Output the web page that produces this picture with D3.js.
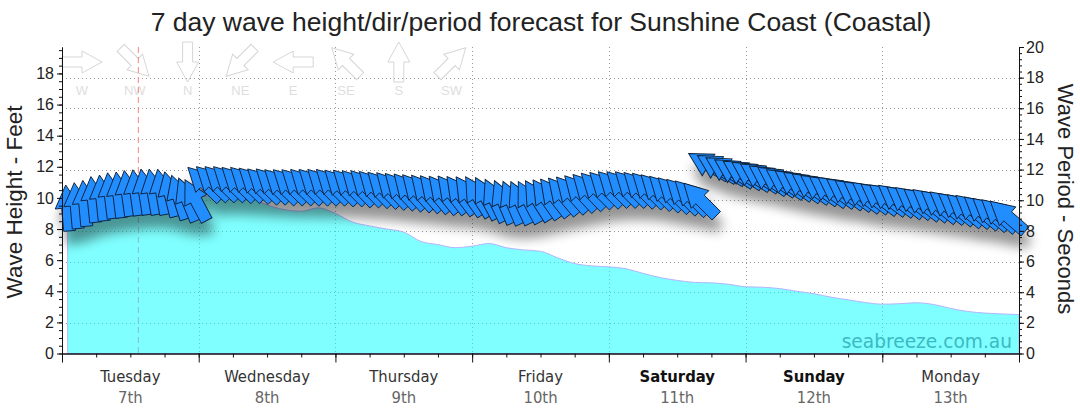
<!DOCTYPE html>
<html><head><meta charset="utf-8">
<script src="https://cdn.jsdelivr.net/npm/d3@7"></script>
<style>html,body{margin:0;padding:0;background:#fff;} svg{display:block;}</style>
</head><body><svg id="chart" width="1080" height="414"></svg>
<script>
// ---------- data ----------
const chartTitle = "7 day wave height/dir/period forecast for Sunshine Coast (Coastal)";
const dayNames = ["Tuesday","Wednesday","Thursday","Friday","Saturday","Sunday","Monday"];
const dayDates = ["7th","8th","9th","10th","11th","12th","13th"];
const weekendDays = ["Saturday","Sunday"];
const heightTicks = [0,2,4,6,8,10,12,14,16,18];
const periodTicks = [0,2,4,6,8,10,12,14,16,18,20];
const legendLabels = ["W","NW","N","NE","E","SE","S","SW"];
const legendFromDeg = [270,315,0,45,90,135,180,225];
const nowHour = 13.4;

// wave height (feet) - hours from Tue 00:00
const heightHours = [1,3,6,9,12,15,18,21,24,27,30,33,36,39,42,45,48,51,54,57,60,63,66,69,72,75,78,81,84,87,90,93,96,99,102,105,108,111,114,117,120,123,126,129,132,135,138,141,144,147,150,153,156,159,162,165,168];
const heightFeet = [9.36,9.4,9.5,9.6,9.7,9.8,9.9,10.0,10.1,10.1,10.1,10.0,9.55,9.25,9.15,9.36,9.0,8.45,8.2,8.0,7.8,7.2,7.0,6.8,6.9,7.07,6.8,6.66,6.57,6.15,5.78,5.63,5.57,5.45,5.15,4.88,4.7,4.57,4.54,4.45,4.29,4.26,4.17,4.0,3.84,3.62,3.45,3.28,3.17,3.2,3.26,3.15,2.9,2.7,2.6,2.54,2.5];

// swell period (s) and direction (deg, from) every 1.5 h starting 01:00 Tue
const swellStartHour = 1, swellStepHours = 1.5;
const swellPeriod = [
 9.5,9.65,9.8,10.05,10.15,10.3,10.35,10.45,10.5,10.55,10.55,10.55,10.4,10.2,10.05,10.0,
 11.1,11.15,11.15,11.15,11.1,11.1,11.05,11.0,11.0,10.95,10.95,10.95,10.95,10.95,10.95,10.95,
 10.9,10.9,10.85,10.85,10.8,10.75,10.7,10.65,10.6,10.55,10.5,10.45,10.4,10.4,10.35,10.3,
 10.25,10.15,10.0,9.9,9.85,9.85,9.9,10.0,10.1,10.2,10.3,10.4,10.5,10.6,10.7,10.75,
 10.8,10.8,10.8,10.75,10.7,10.6,10.5,10.4,10.3,10.2,10.05,
 12.3,12.15,12.0,11.85,11.75,11.65,11.55,11.4,11.3,11.15,11.05,10.95,10.85,10.75,10.65,10.6,
 10.5,10.4,10.3,10.25,10.15,10.1,10.05,9.95,9.9,9.8,9.75,9.65,9.6,9.5,9.4,9.35,
 9.25,9.15,9.05,8.95];
const swellDir = [
 175,175,175,174,174,173,173,172,172,171,170,170,166,162,158,152,
 134,134,134,134,134,134,134,134,134,134,134,134,135,135,135,135,
 135,135,136,136,136,136,137,137,138,138,139,140,141,142,143,145,
 148,152,155,157,157,155,152,148,145,142,140,138,137,136,135,135,
 135,135,135,135,135,135,135,135,135,135,135,
 120,121,121,122,122,123,123,124,124,124,125,125,125,125,126,126,
 126,126,127,127,127,127,128,128,128,128,129,129,129,129,130,130,
 130,130,131,131];

// ---------- drawing ----------
const svg = d3.select("#chart");
const L = 62, R = 1019, T = 47, B = 353.5;
const x = d3.scaleLinear().domain([0,168]).range([L,R]);
const yH = d3.scaleLinear().domain([0,19.7]).range([B,T]);
const yP = d3.scaleLinear().domain([0,20]).range([B,T]);
const FONT = "'Liberation Sans', Arial, sans-serif";
const legendArrow = "M-20,-5L0,-5L0,-11L20,0L0,11L0,5L-20,5Z";
const swellArrow = "M-23,-6L0,-6L0,-12.5L23,0L0,12.5L0,6L-23,6Z";

const defs = svg.append("defs");
const f = defs.append("filter").attr("id","shadow")
  .attr("x","-10%").attr("y","-40%").attr("width","130%").attr("height","220%");
f.append("feGaussianBlur").attr("in","SourceAlpha").attr("stdDeviation",6).attr("result","b");
f.append("feOffset").attr("in","b").attr("dx",3).attr("dy",13).attr("result","o");
f.append("feComponentTransfer").attr("in","o").attr("result","s")
  .append("feFuncA").attr("type","linear").attr("slope",0.42);
const fm = f.append("feMerge");
fm.append("feMergeNode").attr("in","s");
fm.append("feMergeNode").attr("in","SourceGraphic");

// title
svg.append("text").attr("x",541).attr("y",31).attr("text-anchor","middle")
  .style("font-family",FONT).style("font-size","26.5px").attr("fill","#222").text(chartTitle);

// grid
const grid = svg.append("g").attr("stroke","#9a9a9a").attr("stroke-dasharray","1,3").attr("stroke-width",1);
grid.selectAll("line.h").data(periodTicks.filter(d=>d>0 && d<20)).join("line")
  .attr("x1",L).attr("x2",R).attr("y1",d=>Math.round(yP(d))+0.5).attr("y2",d=>Math.round(yP(d))+0.5);
grid.selectAll("line.v").data(d3.range(24,168,24)).join("line")
  .attr("y1",T).attr("y2",B).attr("x1",d=>Math.round(x(d))+0.5).attr("x2",d=>Math.round(x(d))+0.5);

// legend
const lg = svg.append("g");
legendLabels.forEach((lab,i)=>{
  const cx = 82 + i*52.8;
  lg.append("path").attr("d",legendArrow)
    .attr("transform",`translate(${cx},62) rotate(${legendFromDeg[i]+180-90})`)
    .attr("fill","none").attr("stroke","#d6d6d6").attr("stroke-width",1);
  lg.append("text").attr("x",cx).attr("y",95).attr("text-anchor","middle")
    .style("font-family",FONT).style("font-size","13px").attr("fill","#dedede").text(lab);
});

// now line
svg.append("line").attr("x1",x(nowHour)).attr("x2",x(nowHour)).attr("y1",T).attr("y2",B)
  .attr("stroke","#ff8080").attr("stroke-width",1).attr("stroke-dasharray","6,4");

// area
const hData = heightHours.map((h,i)=>({h, v:heightFeet[i]}));
svg.append("path").datum(hData)
  .attr("d", d3.area().x(d=>x(d.h)).y0(yH(0)).y1(d=>yH(d.v)).curve(d3.curveMonotoneX))
  .attr("fill","rgba(0,255,255,0.5)").attr("stroke","#b4b4ff").attr("stroke-width",1);

// watermark
svg.append("text").attr("x",1012).attr("y",348).attr("text-anchor","end")
  .style("font-family","'DejaVu Sans', sans-serif").style("font-size","18.6px")
  .attr("fill","#3cb9c2").text("seabreeze.com.au");

// swell arrows
const sData = swellPeriod.map((p,i)=>({h: swellStartHour + i*swellStepHours, p, d: swellDir[i]}));
svg.append("g").attr("filter","url(#shadow)")
  .selectAll("path").data(sData).join("path")
  .attr("d",swellArrow)
  .attr("transform",d=>`translate(${x(d.h)},${yP(d.p)}) rotate(${d.d+180-90})`)
  .attr("fill","#248dff").attr("stroke","#0c2038").attr("stroke-width",0.9);

// axes
function styleAxis(g){
  g.selectAll("path.domain").attr("stroke","#111");
  g.selectAll("line").attr("stroke","#111");
  g.selectAll("text").style("font-family",FONT).style("font-size","16px").attr("fill","#222");
}
svg.append("g").attr("transform",`translate(${L},0)`)
  .call(d3.axisLeft(yH).tickValues(d3.range(0,19.71,0.5)).tickSize(3).tickSizeOuter(0).tickFormat(""))
  .call(styleAxis);
svg.append("g").attr("transform",`translate(${L},0)`)
  .call(d3.axisLeft(yH).tickValues(heightTicks).tickSize(5).tickPadding(3).tickSizeOuter(0))
  .call(styleAxis);
svg.append("g").attr("transform",`translate(${R},0)`)
  .call(d3.axisRight(yP).tickValues(d3.range(0,20.01,0.4)).tickSize(3).tickSizeOuter(0).tickFormat(""))
  .call(styleAxis);
svg.append("g").attr("transform",`translate(${R},0)`)
  .call(d3.axisRight(yP).tickValues(periodTicks).tickSize(5).tickPadding(2).tickSizeOuter(0))
  .call(styleAxis);
svg.append("g").attr("transform",`translate(0,${B})`)
  .call(d3.axisBottom(x).tickValues(d3.range(0,169,6)).tickSize(4).tickSizeOuter(0).tickFormat(""))
  .call(styleAxis).call(g=>g.select("path.domain").attr("stroke","#112"));
svg.append("g").attr("transform",`translate(0,${B})`)
  .call(d3.axisBottom(x).tickValues(d3.range(0,169,24)).tickSize(9).tickSizeOuter(0).tickFormat(""))
  .call(styleAxis);

// day labels
const DFONT = "'DejaVu Sans Condensed', 'Liberation Sans', sans-serif";
dayNames.forEach((n,i)=>{
  const cx = x(i*24+12);
  const wk = weekendDays.includes(n);
  svg.append("text").attr("x",cx).attr("y",382).attr("text-anchor","middle")
    .style("font-family",DFONT).style("font-size","16.5px").style("font-weight",wk?"bold":"normal")
    .attr("fill",wk?"#111":"#333").text(n);
  svg.append("text").attr("x",cx).attr("y",403).attr("text-anchor","middle")
    .style("font-family",DFONT).style("font-size","16.5px").attr("fill","#666").text(dayDates[i]);
});

// axis titles
svg.append("text").attr("transform","translate(22,202) rotate(-90)").attr("text-anchor","middle")
  .style("font-family",FONT).style("font-size","22.5px").attr("fill","#222").text("Wave Height - Feet");
svg.append("text").attr("transform","translate(1058,199) rotate(90)").attr("text-anchor","middle")
  .style("font-family",FONT).style("font-size","22px").attr("fill","#222").text("Wave Period - Seconds");
</script></body></html>
